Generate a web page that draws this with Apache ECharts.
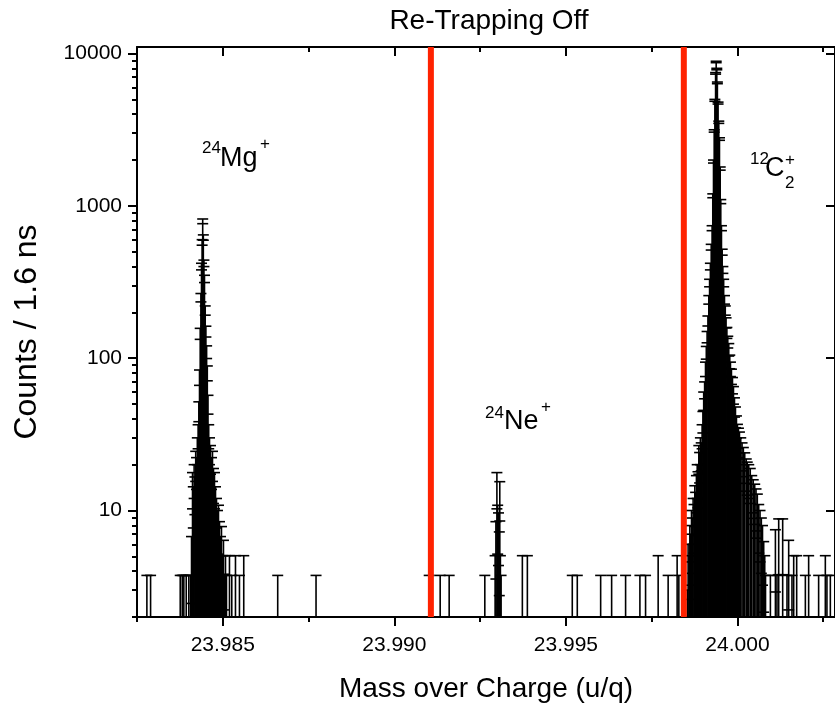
<!DOCTYPE html>
<html>
<head>
<meta charset="utf-8">
<script src="https://cdn.jsdelivr.net/npm/echarts@6/dist/echarts.min.js"></script>
<style>
html,body{margin:0;padding:0;background:#ffffff;}
#chart{width:835px;height:708px;}
</style>
</head>
<body>
<div id="chart"></div>
<script>
// ---------------- data ----------------
// 24Mg+ peak: bin centre (u/q) and counts per 1.6 ns bin
const mgMass = [23.984089,23.984118,23.984141,23.984165,23.984188,23.984211,23.984235,23.984258,23.984281,23.984302,
  23.984322,23.984342,23.984363,23.984380,23.984398,23.984415,23.984433,23.984450,23.984467,23.984488,
  23.984508,23.984529,23.984549,23.984569,23.984590,23.984613,23.984642,23.984671,23.984700,23.984729,
  23.984758,23.984788,23.984817,23.984846,23.984875,23.984904,23.984933,23.984962,23.984991,23.985020,
  23.985049,23.985079,23.985108];
const mgCounts = [4.6,14,11,16,13,20,18,25,31,45,
  75,145,250,400,576,792,620,420,332,206,
  150,110,80,50,31,25,22,18,20,15,
  14,11,9,7.3,8,6,4.6,5.5,3.25,4.3,
  2.3,3.25,2.25];

// 24Ne+ peak
const neMass = [23.992937,23.992960,23.992989,23.993012,23.993036,23.993059,23.993073,23.993091,23.993111];
const neCounts = [3.25,6,14,8,7,5,12,3.25,2.25];

// 12C2+ peak
const c2Mass = [23.998539,23.998562,23.998589,23.998612,23.998635,23.998661,23.998685,23.998708,23.998734,23.998757,
  23.998781,23.998804,23.998827,23.998850,23.998874,23.998897,23.998920,23.998944,23.998970,23.998993,
  23.999016,23.999043,23.999069,23.999092,23.999115,23.999139,23.999165,23.999188,23.999211,23.999235,
  23.999261,23.999281,23.999302,23.999322,23.999342,23.999363,23.999380,23.999398,23.999415,23.999435,
  23.999456,23.999476,23.999497,23.999514,23.999534,23.999555,23.999575,23.999598,23.999622,23.999645,
  23.999668,23.999692,23.999718,23.999747,23.999776,23.999796,23.999825,23.999855,23.999884,23.999913,
  23.999942,23.999971,24.000000,24.000029,24.000058,24.000096,24.000134,24.000172,24.000212,24.000256,
  24.000285,24.000329,24.000373,24.000416,24.000460,24.000503,24.000541,24.000579,24.000620,24.000658,
  24.000696,24.000730,24.000765,24.000795,24.000818];
const c2Counts = [1.7,4,3.25,5.6,4.8,7.3,6.4,9,8.1,11.2,
  10,13.3,16,14.2,22,19.6,25,23,31,38.5,
  52.7,62,85,109,138,176,242,312,400,536,
  714,1165,1955,3104,4930,7413,8806,7911,6420,4730,
  3540,2747,1758,1067,714,497,380,312,242,206,
  171,147,128,114,95,85,76,66.5,57.5,48,
  41.4,35.8,31.2,29.3,27.5,25,23,21.3,19.5,17.6,
  16.7,16,15,13.3,12.4,11.5,10.6,9.7,8.1,7.3,
  6.4,5.6,4.2,3.25,2.25];

// isolated background bins
const bgMass = [23.982788,23.982896,23.983760,23.983818,23.983865,23.983935,23.984010,23.984060,
  23.985195,23.985262,23.985370,23.985486,23.985611,23.986601,23.987718,
  23.991016,23.991336,23.991598,23.992637,23.993731,23.993877,23.995186,23.995332,
  23.996013,23.996333,23.996740,23.997157,23.997322,23.997689,23.997980,23.998242,23.998292,
  24.000960,24.001106,24.001152,24.001202,24.001318,24.001444,24.001493,24.001589,24.001639,
  24.001726,24.001979,24.002075,24.002366,24.002561,24.002608,24.002707];
const bgCounts = [2.25,2.25,2.25,2.25,2.25,2.25,2.25,2.25,
  3.25,2.25,3.25,2.25,3.25,2.25,2.25,
  2.25,2.25,2.25,2.25,3.25,3.25,2.25,2.25,
  2.25,2.25,2.25,2.25,2.25,3.25,2.25,3.25,2.25,
  2.25,5.2,2.25,6.3,6.3,2.25,4.3,2.25,3.25,
  3.25,2.25,3.25,2.25,3.25,2.25,2.25];

// re-trapping window (red lines)
const cutMass = [23.991065, 23.998437];

// axes
const xMin = 23.9825, xMax = 24.002843;
const yMin = 2, yMax = 11040;
const xMajorTicks = [23.985, 23.990, 23.995, 24.000];
const xMinorTicks = [23.9825, 23.9875, 23.9925, 23.9975, 24.0025];
const yMajorTicks = [10, 100, 1000, 10000];
const yMinorTicks = [2,3,4,5,6,7,8,9,20,30,40,50,60,70,80,90,200,300,400,500,600,700,800,900,2000,3000,4000,5000,6000,7000,8000,9000];

// ---------------- chart ----------------
const FONT = 'Liberation Sans, Arial, sans-serif';
const points = [];
[[mgMass, mgCounts], [neMass, neCounts], [c2Mass, c2Counts], [bgMass, bgCounts]].forEach(function (p) {
  p[0].forEach(function (m, i) { points.push([m, p[1][i]]); });
});

const CAP = 5.5, LW = 1.6;
function renderBin(params, api) {
  const x = api.value(0), n = api.value(1);
  const e = Math.sqrt(n);
  const hi = n + e, lo = n - e;
  const base = api.coord([x, yMin]);
  const top = api.coord([x, hi]);
  const st = { stroke: '#000', lineWidth: LW };
  const kids = [
    { type: 'line', shape: { x1: base[0], y1: base[1], x2: top[0], y2: top[1] }, style: st },
    { type: 'line', shape: { x1: top[0] - CAP, y1: top[1], x2: top[0] + CAP, y2: top[1] }, style: st }
  ];
  if (lo > yMin) {
    const b = api.coord([x, lo]);
    kids.push({ type: 'line', shape: { x1: b[0] - CAP, y1: b[1], x2: b[0] + CAP, y2: b[1] }, style: st });
  }
  return { type: 'group', children: kids };
}

const axisLineStyle = { color: '#000', width: 2 };

const cutSeries = cutMass.map(function (m, i) {
  return { type: 'line', name: 'cut' + i, xAxisIndex: 0, yAxisIndex: 0,
    data: [[m, yMin], [m, yMax]], symbol: 'none', silent: true, z: 10,
    lineStyle: { color: '#ff2200', width: 6 } };
});

const option = {
  animation: false,
  backgroundColor: '#ffffff',
  grid: { left: 137, top: 47, width: 699, height: 573, containLabel: false },
  xAxis: [
    { type: 'value', position: 'bottom', min: xMin, max: xMax,
      axisLine: { show: true, lineStyle: axisLineStyle },
      axisTick: { show: true, inside: false, length: 9, lineStyle: { color: '#000', width: 2 }, customValues: xMajorTicks },
      axisLabel: { show: true, customValues: xMajorTicks, margin: 18, color: '#000', fontFamily: FONT, fontSize: 21,
        formatter: function (v) { return Number(v).toFixed(3); } },
      splitLine: { show: false },
      name: 'Mass over Charge (u/q)', nameLocation: 'middle', nameGap: 58,
      nameTextStyle: { color: '#000', fontFamily: FONT, fontSize: 28 } },
    { type: 'value', position: 'bottom', min: xMin, max: xMax,
      axisLine: { show: false },
      axisTick: { show: true, inside: false, length: 5, lineStyle: { color: '#000', width: 2 }, customValues: xMinorTicks },
      axisLabel: { show: false }, splitLine: { show: false } },
    { type: 'value', position: 'top', min: xMin, max: xMax,
      axisLine: { show: true, lineStyle: axisLineStyle },
      axisTick: { show: true, inside: true, length: 9, lineStyle: { color: '#000', width: 2 }, customValues: xMajorTicks },
      axisLabel: { show: false }, splitLine: { show: false } },
    { type: 'value', position: 'top', min: xMin, max: xMax,
      axisLine: { show: false },
      axisTick: { show: true, inside: true, length: 5, lineStyle: { color: '#000', width: 2 }, customValues: xMinorTicks },
      axisLabel: { show: false }, splitLine: { show: false } }
  ],
  yAxis: [
    { type: 'log', logBase: 10, position: 'left', min: yMin, max: yMax,
      axisLine: { show: true, lineStyle: axisLineStyle },
      axisTick: { show: true, inside: false, length: 9, lineStyle: { color: '#000', width: 2 }, customValues: yMajorTicks },
      axisLabel: { show: true, customValues: yMajorTicks, margin: 15, color: '#000', fontFamily: FONT, fontSize: 21,
        formatter: function (v) { return String(Math.round(v)); } },
      splitLine: { show: false },
      name: 'Counts / 1.6 ns', nameLocation: 'middle', nameGap: 94,
      nameTextStyle: { color: '#000', fontFamily: FONT, fontSize: 32 } },
    { type: 'log', logBase: 10, position: 'left', min: yMin, max: yMax,
      axisLine: { show: false },
      axisTick: { show: true, inside: false, length: 5, lineStyle: { color: '#000', width: 2 }, customValues: yMinorTicks },
      axisLabel: { show: false }, splitLine: { show: false } },
    { type: 'log', logBase: 10, position: 'right', min: yMin, max: yMax,
      axisLine: { show: true, lineStyle: axisLineStyle },
      axisTick: { show: true, inside: true, length: 9, lineStyle: { color: '#000', width: 2 }, customValues: yMajorTicks },
      axisLabel: { show: false }, splitLine: { show: false } }
  ],
  series: [
    { type: 'custom', name: 'counts', xAxisIndex: 0, yAxisIndex: 0, clip: true,
      data: points, renderItem: renderBin, z: 2 }
  ].concat(cutSeries),
  graphic: [
    { type: 'text', x: 489, y: 7, style: { text: 'Re-Trapping Off', fill: '#000', font: '28px ' + FONT, textAlign: 'center', textVerticalAlign: 'top' } },
    // 24Mg+
    { type: 'text', x: 202, y: 139.5, style: { text: '24', fill: '#000', font: '17px ' + FONT, textVerticalAlign: 'top' } },
    { type: 'text', x: 220, y: 144.8, style: { text: 'Mg', fill: '#000', font: '27px ' + FONT, textVerticalAlign: 'top' } },
    { type: 'text', x: 260, y: 136, style: { text: '+', fill: '#000', font: '17px ' + FONT, textVerticalAlign: 'top' } },
    // 24Ne+
    { type: 'text', x: 485, y: 404.5, style: { text: '24', fill: '#000', font: '17px ' + FONT, textVerticalAlign: 'top' } },
    { type: 'text', x: 504, y: 408.2, style: { text: 'Ne', fill: '#000', font: '27px ' + FONT, textVerticalAlign: 'top' } },
    { type: 'text', x: 541, y: 399, style: { text: '+', fill: '#000', font: '17px ' + FONT, textVerticalAlign: 'top' } },
    // 12C2+
    { type: 'text', x: 750, y: 151, style: { text: '12', fill: '#000', font: '17px ' + FONT, textVerticalAlign: 'top' } },
    { type: 'text', x: 765, y: 155.5, style: { text: 'C', fill: '#000', font: '27px ' + FONT, textVerticalAlign: 'top' } },
    { type: 'text', x: 785, y: 174.5, style: { text: '2', fill: '#000', font: '17px ' + FONT, textVerticalAlign: 'top' } },
    { type: 'text', x: 785, y: 152, style: { text: '+', fill: '#000', font: '17px ' + FONT, textVerticalAlign: 'top' } }
  ]
};

const chart = echarts.init(document.getElementById('chart'), null, { renderer: 'canvas' });
chart.setOption(option);
</script>
</body>
</html>
